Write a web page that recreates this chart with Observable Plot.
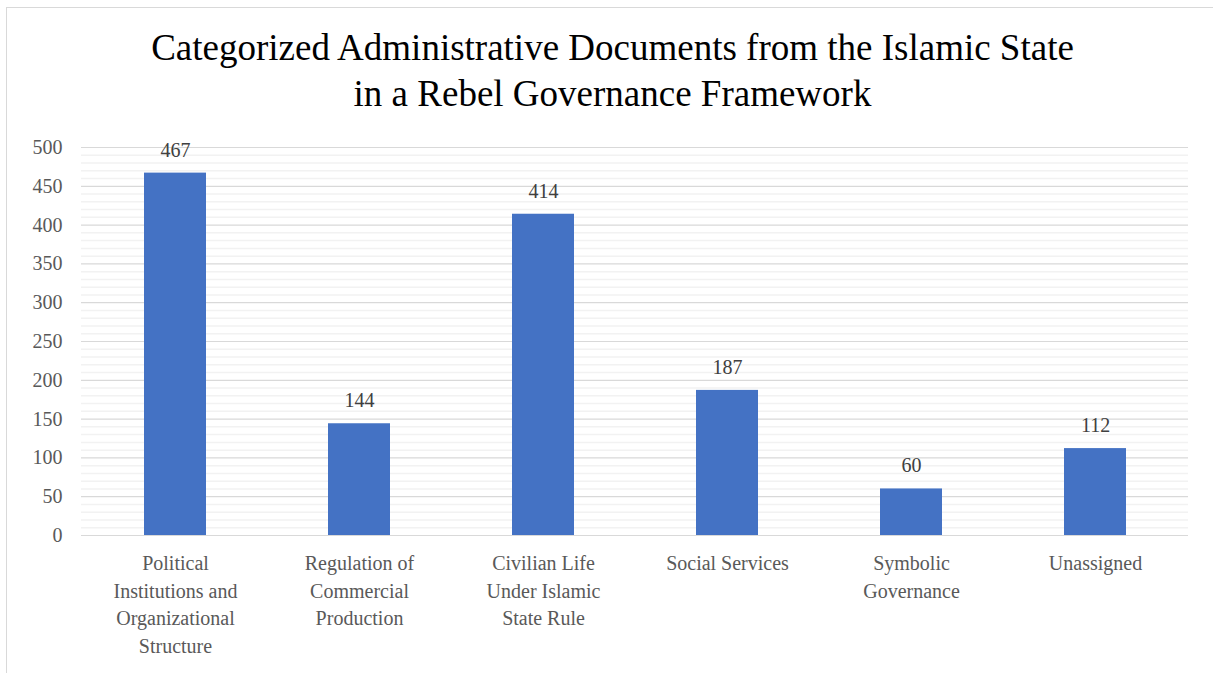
<!DOCTYPE html>
<html>
<head>
<meta charset="utf-8">
<script src="https://cdn.jsdelivr.net/npm/d3@7"></script>
<script src="https://cdn.jsdelivr.net/npm/@observablehq/plot@0.6"></script>
<style>
  html, body { margin: 0; padding: 0; background: #fff; }
  #wrap { position: relative; width: 1213px; height: 673px; overflow: hidden; background: #fff; }
  #frame { position: absolute; left: 6px; top: 7px; width: 1207px; height: 666px;
           border-left: 1.5px solid #d9d9d9; border-top: 1.5px solid #d9d9d9; box-sizing: border-box; }
  .hd { position: relative; height: 125px; box-sizing: border-box; padding-top: 25px; padding-left: 12px;
        text-align: center; font-size: 37px; line-height: 46px; color: #000; white-space: nowrap; }
  #chart { position: relative; }
</style>
</head>
<body>
<div id="wrap">
  <div id="frame"></div>
  <div class="hd" id="h1">Categorized Administrative Documents from the Islamic State<br>in a Rebel Governance Framework</div>
  <div id="chart"></div>
</div>
<script>
const categories = [
  "Political Institutions and Organizational Structure",
  "Regulation of Commercial Production",
  "Civilian Life Under Islamic State Rule",
  "Social Services",
  "Symbolic Governance",
  "Unassigned"
];
const values = [467, 144, 414, 187, 60, 112];
const tickLabels = [
  "Political\nInstitutions and\nOrganizational\nStructure",
  "Regulation of\nCommercial\nProduction",
  "Civilian Life\nUnder Islamic\nState Rule",
  "Social Services",
  "Symbolic\nGovernance",
  "Unassigned"
];
const yTicks = d3.range(0, 501, 50);
const minorTicks = d3.range(0, 501, 10).filter(v => v % 50 !== 0);

const data = categories.map((c, i) => ({cat: c, value: values[i]}));
const labelMap = new Map(categories.map((c, i) => [c, tickLabels[i]]));

const serif = '"Liberation Serif", monospace';
document.getElementById("h1").style.fontFamily = serif;

const chart = Plot.plot({
  width: 1213,
  height: 548,
  marginLeft: 81,
  marginRight: 25,
  marginTop: 22,
  marginBottom: 138,
  x: {domain: categories, paddingInner: 0.665, paddingOuter: 0.3325},
  y: {domain: [0, 500]},
  style: {fontFamily: serif, fontSize: "20px", background: "transparent", overflow: "visible"},
  marks: [
    Plot.ruleY(minorTicks, {stroke: "#f2f2f2", strokeWidth: 1.5}),
    Plot.ruleY(yTicks, {stroke: "#d9d9d9", strokeWidth: 1.2}),
    Plot.barY(data, {x: "cat", y: "value", fill: "#4472c4"}),
    Plot.text(data, {x: "cat", y: "value", text: d => String(d.value), dy: -23, fill: "#404040", fontSize: 20}),
    Plot.axisY({ticks: yTicks, tickSize: 0, tickPadding: 19, fill: "#595959", fontSize: 20, label: null}),
    Plot.axisX({tickSize: 0, tickPadding: 15, tickFormat: d => labelMap.get(d), lineHeight: 1.375, fill: "#595959", fontSize: 20, label: null})
  ]
});
document.getElementById("chart").appendChild(chart);
</script>
</body>
</html>
